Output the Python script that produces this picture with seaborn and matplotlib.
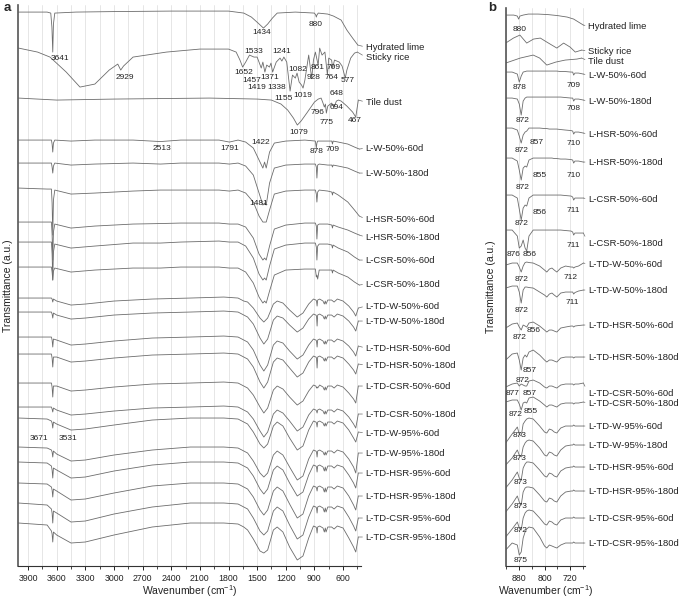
#FTIR spectra, panel a (full range) and panel b (900-680 cm-1)
import numpy as np
import pandas as pd
import seaborn as sns
import matplotlib
matplotlib.use('Agg')
import matplotlib.pyplot as plt
from matplotlib.ticker import MultipleLocator

SAMPLES = ['Hydrated lime', 'Sticky rice', 'Tile dust',
           'L-W-50%-60d', 'L-W-50%-180d', 'L-HSR-50%-60d', 'L-HSR-50%-180d',
           'L-CSR-50%-60d', 'L-CSR-50%-180d',
           'L-TD-W-50%-60d', 'L-TD-W-50%-180d', 'L-TD-HSR-50%-60d', 'L-TD-HSR-50%-180d',
           'L-TD-CSR-50%-60d', 'L-TD-CSR-50%-180d',
           'L-TD-W-95%-60d', 'L-TD-W-95%-180d', 'L-TD-HSR-95%-60d', 'L-TD-HSR-95%-180d',
           'L-TD-CSR-95%-60d', 'L-TD-CSR-95%-180d']

# ---- panel a : 4000-400 cm-1, transmittance relative to each trace start (a.u.)
A_WN_LIME = [4000, 3700, 3662, 3650, 3641, 3634, 3620, 3400, 3000, 2400, 1800, 1640, 1560, 1490, 1434,
             1390, 1340, 1290, 1100, 900, 886, 880, 874, 860, 760, 700, 620, 560, 500, 445]
A_LIME = [0, 0, -1, -15, -40, -12, -1, 0, 0.5, 1, 1, -1, -5, -11, -16,
          -12, -6, -1, 0, -1, -3, -5, -3, -1, -2, -4, -8, -18, -26, -33]

A_WN_RICE = [4000, 3800, 3670, 3500, 3356, 3200, 3050, 2960, 2929, 2900, 2800, 2450, 2100, 1800, 1720,
             1680, 1652, 1620, 1580, 1533, 1500, 1457, 1440, 1419, 1400, 1371, 1355, 1338, 1300, 1260,
             1241, 1220, 1190, 1155, 1130, 1100, 1082, 1060, 1035, 1019, 1000, 960, 940, 928, 910,
             890, 861, 845, 820, 790, 764, 750, 720, 709, 690, 640, 610, 577, 560, 520, 480, 450]
A_RICE = [0, -4, -9, -24, -39, -36, -22, -16, -22, -18, -9, -4, -1, -1, -4,
          -12, -19, -14, -7, -9, -9, -20, -14, -24, -17, -19, -15, -24, -14, -10,
          -13, -9, -14, -43, -27, -30, -25, -34, -37, -40, -32, -7, -22, -30, -12,
          -4, -17, 0, -7, -4, -27, -10, -12, -20, -12, -14, -18, -30, -22, -10, -5, -4]

A_WN_TILE = [4000, 3600, 3000, 2000, 1500, 1350, 1250, 1180, 1120, 1079, 1040, 980, 900, 860, 830,
             810, 796, 785, 775, 760, 720, 694, 670, 648, 620, 560, 500, 467, 440]
A_TILE = [0, -2, -1, 0, -1, -2, -6, -12, -20, -27, -23, -15, -4, -1, 0,
          -5, -9, -6, -15, -8, -5, -9, -3, -2, -3, -8, -14, -19, -2]

A_WN_L = [4000, 3700, 3655, 3648, 3641, 3634, 3620, 3450, 3200, 2800, 2513, 2300, 1900, 1791, 1700,
          1620, 1540, 1480, 1440, 1422, 1405, 1370, 1320, 1200, 1000, 890, 880, 874, 866, 850,
          760, 718, 711, 704, 650, 550, 480, 430]
A_LW50_60 = [0, 0, 0, -4, -12, -3, 0, -1, 0, 0, -1.5, 0, 0, -2, 0,
             -2, -8, -20, -28, -22, -28, -12, -3, -1, 0, -1, -8, -3, -1, -1,
             -1, -1, -4, -1, -2, -4, -7, -9]
A_LW50_180 = [0, 0, 0, -4, -10, -3, 0, -2, -1, 0, -1, 0, 0, -1, 0,
              -3, -12, -30, -42, -40, -42, -20, -5, -2, -1, -1, -4, -15, -2, -1,
              -2, -2, -4, -2, -3, -5, -8, -10]
A_LHSR50_60 = [0, -1, -1, -15, -47, -12, -2, -6, -5, -3, -2, -2, -2, -3, -2,
               -5, -14, -28, -34, -34, -34, -22, -6, -3, -2, -2, -6, -14, -4, -2,
               -3, -4, -7, -4, -7, -14, -22, -28]
A_LHSR50_180 = [0, 0, 0, -12, -38, -10, -2, -6, -4, -2, -1.5, -1, -1, -2, -2,
                -5, -16, -32, -38, -36, -38, -24, -7, -3, -1, -1, -4, -17, -3, -2,
                -2, -3, -6, -3, -5, -8, -11, -13]
A_LCSR50_60 = [0, 0, 0, -12, -38, -10, -2, -6, -4, -1, -1, 0, 1, 0, 0,
               -4, -16, -32, -38, -36, -38, -24, -7, -3, -1, -1, -5, -18, -4, -2,
               -2, -3, -6, -3, -6, -10, -15, -18]
A_LCSR50_180 = [0, 0, 0, -5, -13, -4, -1, -5, -3, -1, -1, 0, 0, -1, -1,
                -5, -16, -30, -36, -34, -36, -24, -8, -3, -2, -2, -10, -8, -12, -3,
                -3, -3, -6, -3, -6, -10, -15, -18]

A_WN_TD = [4000, 3700, 3655, 3648, 3641, 3634, 3600, 3450, 3300, 3000, 2600, 2200, 1850, 1700, 1640,
           1600, 1540, 1470, 1430, 1390, 1330, 1290, 1230, 1160, 1080, 1020, 960, 910, 885, 878,
           872, 866, 845, 810, 796, 786, 778, 760, 720, 694, 660, 600, 540, 490, 467, 440]
A_TDW50_60 = [0, 0, 0, -1, -4, -1, -3, -7, -6, -3, -1, 0, 1, 0, -3,
              -4, -10, -20, -24, -20, -6, -3, -5, -12, -19, -15, -6, -1, -2, -3,
              -8, -2, -1, -3, -6, -3, -6, -2, -2, -4, -1, -3, -8, -14, -18, -10]
A_TDW50_180 = [0, 0, 0, -2, -6, -1, -3, -7, -6, -3, -1, 0, 1, 0, -3,
               -5, -12, -26, -32, -27, -8, -4, -6, -13, -20, -16, -7, -2, -3, -4,
               -14, -3, -2, -4, -7, -4, -7, -3, -3, -5, -2, -4, -9, -15, -19, -9]
A_TDHSR50_60 = [0, 0, 0, -3, -10, -2, -3, -8, -7, -4, -1, 0, 1, 0, -3,
                -5, -13, -28, -34, -28, -8, -4, -6, -14, -22, -18, -8, -2, -3, -4,
                -10, -3, -2, -4, -7, -4, -7, -3, -3, -5, -2, -4, -9, -15, -19, -9]
A_TDHSR50_180 = [0, 0, 0, -4, -13, -3, -3, -8, -7, -4, -1, 0, 1, 0, -3,
                 -5, -13, -28, -34, -28, -8, -4, -6, -14, -23, -19, -8, -2, -3, -4,
                 -14, -3, -2, -4, -7, -4, -7, -3, -3, -5, -2, -4, -10, -16, -20, -10]
A_TDCSR50_60 = [0, 0, 0, -4, -14, -3, -3, -8, -7, -4, -1, 0, 1, 0, -3,
                -5, -12, -24, -30, -25, -7, -3, -6, -14, -22, -18, -8, -2, -3, -5,
                -4, -5, -2, -4, -7, -4, -7, -3, -3, -5, -2, -4, -10, -16, -20, -3]
A_TDCSR50_180 = [0, 0, 0, -2, -5, -1, -3, -8, -7, -4, -1, 0, 1, 0, -3,
                 -5, -12, -24, -30, -25, -7, -3, -6, -14, -24, -20, -8, -2, -3, -4,
                 -6, -3, -2, -4, -7, -4, -7, -3, -3, -5, -2, -4, -10, -17, -21, -7]
A_TDW95_60 = [0, -1, -3, -5, -10, -4, -6, -12, -11, -7, -2, 0, 0, -1, -4,
              -6, -14, -26, -30, -26, -8, -4, -8, -20, -32, -28, -12, -3, -4, -5,
              -9, -4, -3, -5, -8, -5, -8, -4, -4, -6, -3, -5, -12, -20, -24, -14]
A_TDW95_180 = [0, -1, -3, -5, -10, -4, -7, -14, -13, -8, -3, 0, 0, -1, -4,
               -6, -14, -26, -30, -26, -8, -4, -8, -20, -33, -29, -12, -3, -4, -5,
               -10, -4, -3, -5, -8, -5, -8, -4, -4, -6, -3, -5, -12, -20, -26, -6]
A_TDHSR95_60 = [0, -1, -4, -8, -16, -6, -8, -16, -15, -9, -3, 0, 0, -1, -4,
                -6, -14, -27, -32, -27, -8, -4, -8, -21, -34, -30, -13, -3, -4, -5,
                -10, -4, -3, -5, -9, -5, -9, -4, -4, -6, -3, -5, -13, -21, -26, -11]
A_TDHSR95_180 = [0, -1, -4, -7, -14, -6, -8, -17, -16, -10, -3, 0, 0, -1, -4,
                 -6, -14, -27, -32, -27, -8, -4, -8, -21, -35, -31, -13, -3, -4, -5,
                 -8, -4, -3, -5, -9, -5, -9, -4, -4, -6, -3, -5, -13, -22, -27, -13]
A_TDCSR95_60 = [0, -2, -6, -10, -20, -8, -10, -19, -18, -11, -4, 0, 0, -1, -4,
                -6, -15, -28, -32, -28, -8, -4, -8, -22, -36, -32, -14, -3, -4, -5,
                -10, -4, -3, -5, -9, -5, -9, -4, -4, -6, -3, -5, -14, -23, -28, -15]
A_TDCSR95_180 = [0, -2, -8, -11, -19, -9, -12, -20, -19, -12, -4, 0, 0, -1, -4,
                 -7, -16, -28, -30, -27, -7, -4, -9, -24, -37, -33, -15, -3, -4, -5,
                 -10, -4, -3, -5, -9, -5, -9, -4, -4, -6, -3, -5, -15, -24, -29, -14]

A_OFFSET = [554, 518, 468, 426, 403, 378, 344, 324, 299, 268, 254, 229, 212, 183, 159,
            148, 119, 104, 83, 63, 43]
A_LABEL_Y = [519, 509, 464, 418, 393, 347, 329, 306, 282, 260, 245, 218, 201, 180, 152,
             133, 113, 93, 70, 48, 29]

A_PEAK_TEXT = ['3641', '2929', '1434', '880', '1533', '1241', '1652', '1457', '1371', '1419',
               '1338', '1082', '861', '709', '928', '764', '577', '1155', '1019', '648',
               '796', '694', '775', '467', '1079', '2513', '1791', '1422', '878', '709',
               '1481', '3671', '3531']
A_PEAK_WN = [3566, 2885, 1450, 886, 1535, 1242, 1643, 1560, 1371, 1507,
             1291, 1072, 862, 701, 907, 716, 548, 1221, 1022, 663,
             873, 670, 768, 478, 1064, 2502, 1787, 1462, 876, 705,
             1488, 3782, 3479]
A_PEAK_Y = [508, 489, 534, 542, 515, 515, 494, 486, 489, 479,
            479, 497, 499, 499, 489, 489, 486, 468, 471, 473,
            454, 459, 444, 446, 434, 418, 418, 424, 415, 417,
            363, 128, 128]

# ---- panel b : 920-680 cm-1
B_WN_LIME = [920, 895, 884, 880, 876, 866, 850, 820, 790, 760, 730, 710, 695, 680]
B_LIME = [0, 0, -1, -4, -1, 0, 1, 1, 0.5, -0.5, -2, -4, -7, -10]
B_WN_RICE = [920, 896, 876, 855, 834, 813, 793, 762, 741, 721, 705, 685]
B_RICE = [0, 5, 8, 0, 4, 5, 1, -5, 0, -4, -9, -7]
B_WN_TILE = [920, 875, 835, 815, 793, 765, 736, 700, 685]
B_TILE = [0, 5, 8, 5, -2, 1, 3, 4, 5]

B_WN = [920, 900, 884, 878, 872, 866, 860, 855, 848, 835, 815, 800, 793, 785, 777,
        770, 762, 750, 735, 718, 713, 710, 706, 695, 680]
B_LW50_60 = [0, 0, -2, -10, -4, 0, 0.5, 1, 1, 1, 1, 1, 1, 1, 1, 1, 1, 0.5, 0.5, 0, 0, -3, -1, -1, -2]
B_LW50_180 = [0, 0, -1, -6, -17, -3, 0, 1, 1, 1, 1, 1, 1, 1, 1, 1, 1, 1, 0.5, 0, 0, -3, -1, -1, -2]
B_LHSR50_60 = [0, 0, -2, -8, -15, -7, -4, -3, 0, 0, 0, -0.5, -0.5, -1, -1, -1, -1, -1.5, -2, -2.5, -3, -6, -4, -4, -5]
B_LHSR50_180 = [0, 0, -3, -12, -22, -10, -8, -9, -2, 0, 0, 0, 0, 0, 0, -0.5, -0.5, -1, -1, -1.5, -2, -5, -3, -3, -4]
B_LCSR50_60 = [0, 0, -3, -14, -25, -13, -10, -11, -3, 0, 0, 0, 0, 0, 0, 0, 0, 0, -0.5, -1, -2, -5, -3, -3, -3]
B_LCSR50_180 = [0, 0, -6, -18, -16, -10, -18, -21, -6, 0, 0, 0, 0, 0, 0, 0, 0, 0, -0.5, -1, -2, -5, -3, -3, -3]
B_TDW50_60 = [0, 2, 2, -2, -7, -1, 2.5, 3, 2.5, 2, -1, -5, -7, -4, -3, -5, -7, -3, -1, -2, -2, -3, -2, -1, 2]
B_TDW50_180 = [0, 2, 2, -4, -15, -2, 1, 1, 0.5, 0, -4, -7, -9, -6, -5, -7, -9, -5, -4, -4, -4, -6, -4.5, -3, -2]
B_TDHSR50_60 = [0, 4, 5, 1, -2, 3, 2, 1, 5, 6, 2, -2, -4, -2, -2, -3, -4, 0, 1, 2, 2, 1, 2, 2.5, 3]
B_TDHSR50_180 = [0, 6, 7, 0, -10, 2, 5, 3, 8, 10, 5, 0, -2, 0, 0, -1, -2, 2, 3, 3, 3, 2, 3, 3, 3]
B_TDCSR50_60 = [0, 3, 4, 1, 3, 2, 1, 1, 6, 7, 4, 0, -1, 1, 1, 0, -1, 2, 3, 3, 3, 2, 3, 3, 4]
B_TDCSR50_180 = [0, 2, 2, -2, -8, -1, 0, -1, 4, 5, 1, -3, -5, -3, -3, -4, -5, -2, -1, -1, -1, -2, -1, -1, 0]
B_TDW95_60 = [0, 9, 16, 9, 7, 19, 22, 24, 25, 24, 17, 11, 10, 14, 13, 11, 10, 15, 17, 17, 17, 18, 17, 17, 17]
B_TDW95_180 = [0, 7, 15, 10, 8, 18, 22, 24, 25, 24, 17, 10, 9, 13, 12, 10, 9, 15, 19, 20, 20, 21, 20, 20, 20]
B_TDHSR95_60 = [0, 8, 16, 10, 8, 20, 24, 26, 26, 25, 18, 12, 11, 15, 14, 12, 11, 17, 20, 21, 21, 22, 21, 21, 21]
B_TDHSR95_180 = [0, 8, 16, 10, 7, 20, 24, 25, 25, 24, 17, 11, 10, 14, 13, 11, 10, 16, 20, 21, 21, 22, 21, 21, 21]
B_TDCSR95_60 = [0, 8, 15, 9, 7, 19, 24, 26, 27, 26, 19, 13, 12, 16, 15, 13, 12, 17, 19, 19, 19, 20, 19, 19, 19]
B_TDCSR95_180 = [0, 7, 5, -5, -2, 12, 18, 21, 23, 22, 13, 4, 2, 5, 4, 3, 2, 5, 7, 7, 7, 8, 7, 7, 7]

B_OFFSET = [551, 523, 503, 494, 468, 438, 408, 371, 336, 301, 278, 238, 206, 179, 164,
            123, 101, 78, 54, 29, 16]
B_LABEL_Y = [540, 515, 505, 491, 465, 432, 404, 367, 323, 302, 276, 241, 209, 173, 163,
             140, 121, 99, 75, 48, 23]

B_PEAK_TEXT = ['880', '878', '709', '872', '708', '857', '872', '710', '855', '872',
               '710', '856', '872', '711', '876', '856', '711', '872', '712', '872',
               '711', '856', '872', '857', '872', '877', '857', '872', '855', '873',
               '873', '873', '873', '872', '875']
B_PEAK_WN = [876, 876, 711, 867, 711, 823, 870, 711, 814, 867,
             711, 814, 870, 711, 897, 845, 711, 870, 720, 870,
             714, 835, 876, 845, 867, 900, 845, 888, 843, 876,
             876, 873, 873, 873, 873]
B_PEAK_Y = [537, 479, 481, 446, 458, 424, 416, 423, 391, 379,
            391, 354, 343, 356, 312, 312, 321, 287, 289, 256,
            264, 236, 229, 196, 186, 173, 173, 152, 155, 131,
            108, 84, 60, 36, 6]

A_WNS = [A_WN_LIME, A_WN_RICE, A_WN_TILE] + [A_WN_L] * 6 + [A_WN_TD] * 12
A_TS = [A_LIME, A_RICE, A_TILE, A_LW50_60, A_LW50_180, A_LHSR50_60, A_LHSR50_180,
        A_LCSR50_60, A_LCSR50_180, A_TDW50_60, A_TDW50_180, A_TDHSR50_60, A_TDHSR50_180,
        A_TDCSR50_60, A_TDCSR50_180, A_TDW95_60, A_TDW95_180, A_TDHSR95_60, A_TDHSR95_180,
        A_TDCSR95_60, A_TDCSR95_180]
B_WNS = [B_WN_LIME, B_WN_RICE, B_WN_TILE] + [B_WN] * 18
B_TS = [B_LIME, B_RICE, B_TILE, B_LW50_60, B_LW50_180, B_LHSR50_60, B_LHSR50_180,
        B_LCSR50_60, B_LCSR50_180, B_TDW50_60, B_TDW50_180, B_TDHSR50_60, B_TDHSR50_180,
        B_TDCSR50_60, B_TDCSR50_180, B_TDW95_60, B_TDW95_180, B_TDHSR95_60, B_TDHSR95_180,
        B_TDCSR95_60, B_TDCSR95_180]

sns.set_theme(style='ticks')
plt.rcParams['font.family'] = ['Liberation Sans', 'DejaVu Sans']
plt.rcParams['mathtext.default'] = 'regular'

LINE = '#6c6c6c'
TXT = '#222222'


def long_table(wns, ts, offsets):
    rows = []
    for name, wn, t, off in zip(SAMPLES, wns, ts, offsets):
        for w, v in zip(wn, t):
            rows.append((name, w, v + off))
    return pd.DataFrame(rows, columns=['sample', 'wn', 'T'])


def draw_panel(ax, wns, ts, offsets, label_y, label_x, ptext, pwn, py):
    df = long_table(wns, ts, offsets)
    sns.lineplot(data=df, x='wn', y='T', units='sample', estimator=None,
                 color=LINE, lw=0.6, ax=ax, legend=False)
    for name, wn, t, off, ly in zip(SAMPLES, wns, ts, offsets, label_y):
        ax.annotate(name, xy=(wn[-1], t[-1] + off), xytext=(label_x, ly),
                    ha='left', va='center', fontsize=6.8, color=TXT,
                    annotation_clip=False,
                    arrowprops=dict(arrowstyle='-', color=LINE, lw=0.5,
                                    shrinkA=0, shrinkB=0, relpos=(0, 0.5)))
    for s, w, y in zip(ptext, pwn, py):
        ax.text(w, y, s, ha='center', va='center', fontsize=6, color=TXT)
    ax.set_yticks([])
    ax.set_ylabel('Transmittance (a.u.)', fontsize=7.5, color=TXT, labelpad=4)
    ax.set_xlabel('Wavenumber (cm$^{-1}$)', fontsize=7.5, color=TXT, labelpad=0.5)
    ax.grid(axis='x', which='both', color='#e2e2e2', lw=0.6)
    ax.set_axisbelow(True)
    sns.despine(ax=ax)
    ax.spines['left'].set_color('#555555')
    ax.spines['left'].set_linewidth(1.2)
    ax.spines['bottom'].set_color('#333333')
    ax.spines['bottom'].set_linewidth(0.8)
    ax.tick_params(axis='x', which='major', direction='out', length=3, width=0.7,
                   labelsize=6.3, pad=2.5, colors=TXT)
    ax.tick_params(axis='x', which='minor', direction='out', length=2, width=0.6,
                   bottom=True)


fig = plt.figure(figsize=(6.85, 5.98), dpi=100)
ax_a = fig.add_axes([0.027, 0.0535, 0.4996, 0.938])
ax_b = fig.add_axes([0.7382, 0.0535, 0.1158, 0.933])

draw_panel(ax_a, A_WNS, A_TS, A_OFFSET, A_LABEL_Y, 363, A_PEAK_TEXT, A_PEAK_WN, A_PEAK_Y)
ax_a.set_xlim(4000, 415)
ax_a.set_ylim(0, 561)
ax_a.set_xticks(np.arange(3900, 599, -300))
ax_a.xaxis.set_minor_locator(MultipleLocator(150))

draw_panel(ax_b, B_WNS, B_TS, B_OFFSET, B_LABEL_Y, 665, B_PEAK_TEXT, B_PEAK_WN, B_PEAK_Y)
ax_b.set_xlim(920, 675)
ax_b.set_ylim(0, 558)
ax_b.set_xticks([880, 800, 720])
ax_b.xaxis.set_minor_locator(MultipleLocator(40))
ax_b.yaxis.labelpad = 7

fig.text(7 / 685, 1 - 8 / 598, 'a', ha='center', va='center', fontsize=9.5, fontweight='bold')
fig.text(492 / 685, 1 - 8 / 598, 'b', ha='center', va='center', fontsize=9.5, fontweight='bold')

fig.savefig('out.png', dpi=100)
